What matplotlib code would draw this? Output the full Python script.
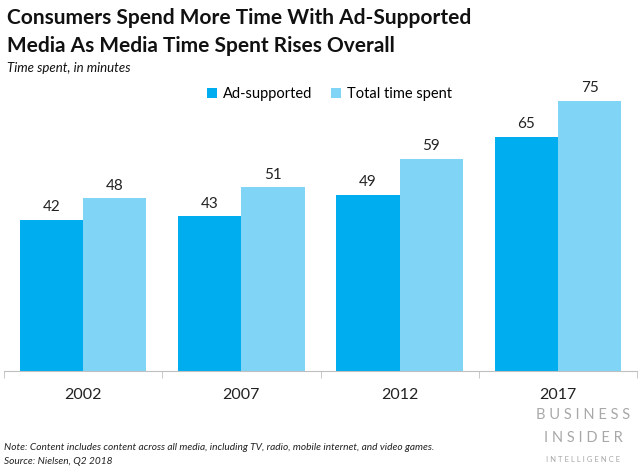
import numpy as np
import matplotlib.pyplot as plt

years = ['2002', '2007', '2012', '2017']
ad_supported = [42, 43, 49, 65]
total_time = [48, 51, 59, 75]

plt.rcParams['font.family'] = ['Lato', 'DejaVu Sans']

fig = plt.figure(figsize=(6.4, 4.66), dpi=100)
ax = fig.add_axes([4 / 640, 1 - 371 / 466, 633 / 640, 288 / 466])

x = np.arange(len(years))
w = 0.4
b1 = ax.bar(x - w / 2, ad_supported, w, color='#00aeef', label='Ad-supported')
b2 = ax.bar(x + w / 2, total_time, w, color='#80d5f6', label='Total time spent')

for bars, vals in ((b1, ad_supported), (b2, total_time)):
    for bar, v in zip(bars, vals):
        ax.annotate(str(v), (bar.get_x() + bar.get_width() / 2, v),
                    xytext=(0, 4), textcoords='offset points',
                    ha='center', va='bottom', fontsize=11, color='#222222')

ax.set_xlim(-0.5, len(years) - 0.5)
ax.set_ylim(0, 80)
for s in ['top', 'right', 'left']:
    ax.spines[s].set_visible(False)
ax.spines['bottom'].set_color('#bfbfbf')
ax.set_yticks([])
ax.set_xticks(x)
ax.set_xticklabels(years, fontsize=11.5, color='#222222')
ax.tick_params(axis='x', length=0, pad=12)
# group separator ticks
ax.set_xticks(np.arange(-0.5, len(years)), minor=True)
ax.tick_params(axis='x', which='minor', length=5, color='#bfbfbf')

fig.legend(loc='center', bbox_to_anchor=(0.515, 1 - 94 / 466), ncol=2,
           frameon=False, fontsize=10.5, handlelength=0.7, handleheight=0.7,
           handletextpad=0.4, columnspacing=1.3)

fig.text(7 / 640, 1 - 18 / 466, 'Consumers Spend More Time With Ad-Supported',
         fontsize=15, fontweight='bold', va='center', color='#111111')
fig.text(7 / 640, 1 - 46 / 466, 'Media As Media Time Spent Rises Overall',
         fontsize=15, fontweight='bold', va='center', color='#111111')
fig.text(7 / 640, 1 - 68 / 466, 'Time spent, in minutes',
         fontsize=9.5, style='italic', va='center', color='#111111')

fig.text(4 / 640, 1 - 447 / 466,
         'Note: Content includes content across all media, including TV, radio, mobile internet, and video games.',
         fontsize=7.3, style='italic', va='center', color='#222222')
fig.text(4 / 640, 1 - 461 / 466, 'Source: Nielsen, Q2 2018',
         fontsize=7.3, style='italic', va='center', color='#222222')

logo = dict(ha='center', va='center', color='#a8a8a8')
fig.text(583 / 640, 1 - 415 / 466, 'B U S I N E S S', fontsize=10.5, **logo)
fig.text(583 / 640, 1 - 438 / 466, 'I N S I D E R', fontsize=10.5, **logo)
fig.text(583 / 640, 1 - 460 / 466, 'I N T E L L I G E N C E', fontsize=5.5, **logo)

fig.savefig('out.png', dpi=100)
